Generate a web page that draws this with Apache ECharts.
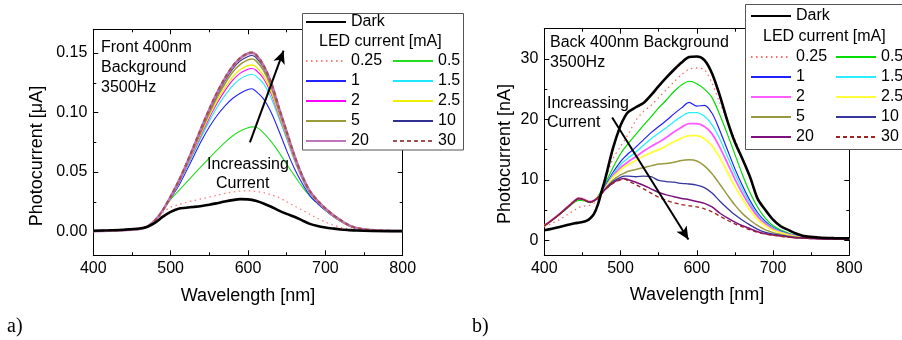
<!DOCTYPE html>
<html><head><meta charset="utf-8">
<script src="https://cdn.jsdelivr.net/npm/echarts@6/dist/echarts.min.js"></script>
<style>html,body{margin:0;padding:0;background:#fff}#c{width:902px;height:340px}</style>
</head><body><div id="c"></div>
<script>
// ---------- Panel a) Front 400nm, photocurrent in uA ----------
const WL_A = [400,420,440,460,470,480,490,500,510,520,530,540,550,560,570,580,590,600,605,610,620,630,640,650,660,670,680,690,700,710,720,730,740,760,780,800];
const DARK_A = [0.0006,0.001,0.0015,0.0025,0.004,0.0075,0.0125,0.0165,0.0192,0.0200,0.0207,0.0215,0.0225,0.0238,0.0252,0.0264,0.0272,0.0270,0.0266,0.0258,0.0236,0.0208,0.0176,0.0148,0.0124,0.0094,0.0064,0.0046,0.0034,0.0025,0.0017,0.0012,0.0008,0.0004,0.0003,0.0003];
const A_0_25 = [0.0003,0.0007,0.0012,0.0022,0.0042,0.009,0.016,0.0205,0.0225,0.0245,0.026,0.0275,0.029,0.0305,0.032,0.0332,0.034,0.0342,0.034,0.0337,0.0327,0.031,0.0285,0.025,0.0215,0.018,0.0145,0.011,0.008,0.0055,0.0035,0.0022,0.0013,0.0006,0.0004,0.0003];
const A_0_5 = [0.0003,0.0007,0.0012,0.0022,0.0042,0.0095,0.018,0.027,0.034,0.041,0.048,0.055,0.0618,0.0685,0.0748,0.0803,0.0845,0.0872,0.088,0.0878,0.083,0.0755,0.0665,0.0565,0.047,0.0378,0.0298,0.0235,0.0178,0.0125,0.0084,0.0049,0.0027,0.0011,0.0006,0.0004];
const A_1 = [0.0003,0.0007,0.0012,0.0022,0.0042,0.0095,0.018,0.0278,0.038,0.0505,0.0635,0.0765,0.0878,0.0975,0.1055,0.1118,0.1163,0.1193,0.120,0.118,0.1115,0.100,0.0845,0.068,0.053,0.0405,0.0302,0.0235,0.0178,0.0127,0.0085,0.005,0.0027,0.0011,0.0006,0.0004];
const A_1_5 = [0.0003,0.0007,0.0012,0.0022,0.0042,0.0095,0.018,0.0282,0.0395,0.0523,0.066,0.0798,0.0928,0.1045,0.1143,0.1225,0.1283,0.1315,0.132,0.1308,0.1243,0.1122,0.0952,0.0778,0.0598,0.0442,0.032,0.0245,0.0183,0.013,0.0087,0.005,0.0027,0.0011,0.0006,0.0004];
const A_2 = [0.0003,0.0007,0.0012,0.0022,0.0042,0.0095,0.018,0.0284,0.040,0.0533,0.0675,0.082,0.0955,0.1078,0.1182,0.127,0.1332,0.1365,0.137,0.1358,0.1287,0.1158,0.0975,0.0793,0.0608,0.0448,0.0324,0.0248,0.0185,0.0132,0.0088,0.0051,0.0028,0.0011,0.0006,0.0004];
const A_2_5 = [0.0003,0.0007,0.0012,0.0022,0.0042,0.0095,0.018,0.0286,0.0405,0.054,0.0685,0.0833,0.0973,0.11,0.1207,0.1298,0.1362,0.1395,0.140,0.1388,0.1312,0.1178,0.0988,0.0802,0.0614,0.0452,0.0327,0.025,0.0186,0.0133,0.0089,0.0051,0.0028,0.0011,0.0006,0.0004];
const A_5 = [0.0003,0.0007,0.0012,0.0022,0.0042,0.0095,0.018,0.0288,0.041,0.0548,0.0698,0.085,0.0995,0.1128,0.124,0.1338,0.1405,0.1443,0.145,0.1437,0.1355,0.1213,0.1012,0.0818,0.0623,0.0457,0.033,0.0252,0.0188,0.0134,0.009,0.0052,0.0028,0.0011,0.0006,0.0004];
const A_10 = [0.0003,0.0007,0.0012,0.0022,0.0042,0.0095,0.018,0.029,0.0413,0.0553,0.0705,0.086,0.101,0.1148,0.1265,0.1365,0.1435,0.1472,0.148,0.1465,0.1378,0.123,0.1025,0.0828,0.063,0.0462,0.0334,0.0255,0.019,0.0136,0.0092,0.0053,0.0029,0.0012,0.0006,0.0004];
const A_20 = [0.0003,0.0007,0.0012,0.0022,0.0042,0.0095,0.018,0.0293,0.0418,0.056,0.0715,0.0875,0.1025,0.1165,0.1285,0.1385,0.1457,0.1497,0.1502,0.1487,0.1397,0.1248,0.1038,0.0838,0.0638,0.0468,0.0338,0.0258,0.0193,0.0138,0.0093,0.0054,0.003,0.0012,0.0006,0.0004];
const A_30 = [0.0003,0.0007,0.0012,0.0022,0.0042,0.0095,0.018,0.0295,0.042,0.0565,0.072,0.088,0.103,0.117,0.129,0.139,0.146,0.150,0.1505,0.149,0.140,0.125,0.104,0.084,0.064,0.047,0.034,0.026,0.0195,0.014,0.0095,0.0055,0.003,0.0012,0.0006,0.0004];

// ---------- Panel b) Back 400nm, photocurrent in nA ----------
const WL_B = [400,410,420,430,440,445,450,455,460,465,470,475,480,490,500,505,510,520,530,540,550,560,570,580,590,600,610,620,630,640,650,660,670,680,690,700,710,720,730,740,760,780,800];
const DARK_B = [1.65,1.9,2.2,2.5,2.8,2.9,3.0,3.2,3.6,4.3,5.8,8.0,10.2,15.2,19.0,20.3,21.2,22.0,22.7,24.0,25.5,26.9,28.2,29.4,30.3,30.4,29.8,27.6,24.0,19.8,16.2,13.4,10.4,6.8,5.0,3.4,2.3,1.7,1.1,0.7,0.45,0.35,0.3];
const B_0_25 = [2.2,2.8,3.4,4.2,5.0,5.4,5.6,5.7,5.8,6.1,6.8,8.2,10.0,13.5,15.5,16.5,17.5,19.8,21.3,22.3,23.6,24.9,26.2,27.4,28.3,28.5,28.2,26.0,22.8,19.8,16.7,13.5,10.2,7.0,4.9,3.3,2.3,1.6,1.1,0.8,0.5,0.4,0.35];
const B_0_5 = [2.4,3.3,4.3,5.3,6.3,6.6,6.6,6.4,6.2,6.5,7.2,8.2,9.4,12.0,14.3,15.2,16.0,17.5,19.0,20.4,21.9,23.2,24.6,25.7,26.3,25.9,25.0,23.6,20.8,17.6,14.2,10.8,7.8,5.4,3.6,2.4,1.7,1.2,0.8,0.55,0.35,0.3,0.25];
const B_1 = [2.4,3.3,4.3,5.4,6.5,6.9,6.8,6.5,6.3,6.5,7.1,7.9,9.0,11.2,13.0,13.7,14.3,15.4,16.6,17.8,18.8,19.8,20.9,21.9,22.8,22.2,22.3,21.0,18.2,15.0,11.8,9.0,6.5,4.5,3.1,2.1,1.5,1.05,0.75,0.5,0.3,0.25,0.2];
const B_1_5 = [2.4,3.3,4.3,5.4,6.5,6.9,6.8,6.5,6.3,6.5,7.1,7.8,8.8,10.9,12.5,13.1,13.6,14.6,15.7,16.8,17.7,18.6,19.6,20.5,21.1,21.1,20.5,19.1,16.8,13.9,11.0,8.4,6.1,4.2,2.9,2.0,1.4,1.0,0.7,0.5,0.3,0.25,0.2];
const B_2 = [2.5,3.4,4.4,5.5,6.6,7.0,6.9,6.6,6.4,6.6,7.1,7.8,8.7,10.6,12.0,12.5,13.0,13.8,14.7,15.5,16.2,17.0,17.9,18.7,19.3,19.3,18.8,17.6,15.4,12.8,10.1,7.7,5.6,3.9,2.7,1.85,1.3,0.95,0.65,0.45,0.3,0.25,0.2];
const B_2_5 = [2.4,3.3,4.3,5.4,6.5,6.9,6.8,6.5,6.3,6.5,7.1,7.7,8.6,10.4,11.6,12.1,12.5,13.2,13.9,14.5,15.0,15.6,16.3,16.9,17.3,17.3,16.8,15.6,13.7,11.3,8.9,6.8,4.9,3.4,2.4,1.65,1.2,0.85,0.6,0.45,0.3,0.25,0.2];
const B_5 = [2.4,3.3,4.3,5.4,6.5,6.9,6.8,6.5,6.3,6.5,7.0,7.7,8.5,9.9,10.8,11.1,11.4,11.7,12.0,12.3,12.6,12.7,12.9,13.2,13.3,13.1,12.3,11.0,9.3,7.5,5.8,4.4,3.3,2.4,1.7,1.25,0.95,0.7,0.5,0.4,0.3,0.25,0.2];
const B_10 = [2.4,3.3,4.3,5.4,6.5,6.9,6.8,6.5,6.3,6.5,7.0,7.7,8.5,9.7,10.4,10.6,10.6,10.5,10.6,10.5,9.9,9.7,9.6,9.4,9.3,9.1,8.7,7.8,6.5,5.3,4.2,3.3,2.5,1.8,1.3,1.0,0.8,0.6,0.45,0.35,0.25,0.2,0.2];
const B_20 = [2.4,3.3,4.3,5.4,6.5,6.9,6.8,6.5,6.3,6.5,7.0,7.7,8.4,9.5,10.1,10.2,10.0,9.6,9.1,8.5,7.9,7.5,7.2,6.9,6.7,6.4,6.1,5.5,4.5,3.7,3.0,2.4,1.9,1.4,1.05,0.85,0.7,0.55,0.4,0.35,0.25,0.2,0.2];
const B_30 = [2.4,3.3,4.3,5.4,6.5,6.9,6.8,6.5,6.3,6.5,7.0,7.7,8.4,9.4,10.0,10.1,9.8,9.2,8.5,7.8,7.1,6.6,6.2,5.9,5.7,5.5,5.2,4.7,4.0,3.3,2.7,2.2,1.7,1.3,1.0,0.8,0.65,0.5,0.4,0.3,0.25,0.2,0.2];

// ---------- Axes / tick labels ----------
const X_RANGE = [400, 800];
const X_TICK_STEP = 100;
const Y_RANGE_A = [-0.02, 0.17];
const Y_TICKS_A = [0, 0.05, 0.10, 0.15];
const Y_MINOR_A = [0.025, 0.075, 0.125];
const Y_RANGE_B = [-2.5, 35];
const Y_TICKS_B = [0, 10, 20, 30];
const Y_MINOR_B = [5, 15, 25];
const COL1 = ['0.25', '1', '2', '5', '20'];
const COL2 = ['0.5', '1.5', '2.5', '10', '30'];
const ARROW_A = [[602.5, 0.075], [646, 0.152]];
const ARROW_B = [[489, 20.3], [589, 0.1]];

const FONT = 'Liberation Sans, Arial, Helvetica, sans-serif';

function xa(g, pos, labels) {
  return {type:'value', gridIndex:g, position:pos, min:X_RANGE[0], max:X_RANGE[1], interval:X_TICK_STEP,
    axisLine:{show:true, onZero:false, lineStyle:{color:'#000', width:1}},
    axisTick:{show:true, inside:true, length:5, lineStyle:{color:'#000', width:1}},
    minorTick:{show:true, splitNumber:2, length:3, lineStyle:{color:'#000', width:1}},
    axisLabel:{show:labels, color:'#000', fontSize:16, fontFamily:FONT, margin:5},
    splitLine:{show:false}, minorSplitLine:{show:false}};
}
function yaMajor(g, pos, range, ticks, labels, fmt) {
  return {type:'value', gridIndex:g, position:pos, min:range[0], max:range[1],
    axisLine:{show:true, onZero:false, lineStyle:{color:'#000', width:1}},
    axisTick:{show:true, inside:true, length:5, customValues:ticks, lineStyle:{color:'#000', width:1}},
    axisLabel:{show:labels, customValues:ticks, color:'#000', fontSize:16, fontFamily:FONT, margin:6, formatter:fmt},
    splitLine:{show:false}};
}
function yaMinor(g, pos, range, ticks) {
  return {type:'value', gridIndex:g, position:pos, min:range[0], max:range[1],
    axisLine:{show:false, onZero:false},
    axisTick:{show:true, inside:true, length:3, customValues:ticks, lineStyle:{color:'#000', width:1}},
    axisLabel:{show:false, customValues:ticks},
    splitLine:{show:false}};
}

function mk(prefix, name, wl, vals, xi, yi, color, width, type, z) {
  return {type:'line', name: prefix + '|' + name, xAxisIndex:xi, yAxisIndex:yi,
    data: wl.map((w, i) => [w, vals[i]]), symbol:'none', showSymbol:false, smooth:0.3,
    lineStyle:{color:color, width:width, type:type}, itemStyle:{color:color}, z:z, silent:true};
}

const seriesA = [
  mk('A','0.25', WL_A, A_0_25, 0,0, '#ff7c7c', 1.3, [1.5,3.5], 2),
  mk('A','0.5',  WL_A, A_0_5,  0,0, '#22dd22', 1.1, 'solid', 2),
  mk('A','1',    WL_A, A_1,    0,0, '#2323ff', 1.1, 'solid', 2),
  mk('A','1.5',  WL_A, A_1_5,  0,0, '#1ee8ff', 1.1, 'solid', 2),
  mk('A','2',    WL_A, A_2,    0,0, '#ff00ff', 1.1, 'solid', 2),
  mk('A','2.5',  WL_A, A_2_5,  0,0, '#eeee00', 1.3, 'solid', 2),
  mk('A','5',    WL_A, A_5,    0,0, '#9a9a38', 1.6, 'solid', 2),
  mk('A','10',   WL_A, A_10,   0,0, '#303090', 1.1, 'solid', 2),
  mk('A','20',   WL_A, A_20,   0,0, '#c075b8', 2.6, 'solid', 2),
  mk('A','30',   WL_A, A_30,   0,0, '#a05050', 2.0, [4,3], 2),
  mk('A','Dark', WL_A, DARK_A, 0,0, '#000000', 2.6, 'solid', 3)
];
seriesA[seriesA.length-1].markLine = {silent:true, symbol:['none','arrow'], symbolSize:[9,13],
  lineStyle:{color:'#000', width:2, type:'solid'}, label:{show:false},
  data:[[{coord:ARROW_A[0]},{coord:ARROW_A[1]}]]};

const seriesB = [
  mk('B','0.25', WL_B, B_0_25, 2,4, '#ff6a6a', 1.3, [1.5,3.5], 2),
  mk('B','0.5',  WL_B, B_0_5,  2,4, '#00dd00', 1.2, 'solid', 2),
  mk('B','1',    WL_B, B_1,    2,4, '#2020ff', 1.2, 'solid', 2),
  mk('B','1.5',  WL_B, B_1_5,  2,4, '#28eeff', 1.3, 'solid', 2),
  mk('B','2',    WL_B, B_2,    2,4, '#ff5cff', 1.8, 'solid', 2),
  mk('B','2.5',  WL_B, B_2_5,  2,4, '#ffff3a', 1.8, 'solid', 2),
  mk('B','5',    WL_B, B_5,    2,4, '#999940', 1.5, 'solid', 2),
  mk('B','10',   WL_B, B_10,   2,4, '#36369e', 1.3, 'solid', 2),
  mk('B','20',   WL_B, B_20,   2,4, '#7e107e', 1.5, 'solid', 2),
  mk('B','30',   WL_B, B_30,   2,4, '#a02424', 1.3, [4,3], 2),
  mk('B','Dark', WL_B, DARK_B, 2,4, '#000000', 2.6, 'solid', 3)
];
seriesB[seriesB.length-1].markLine = {silent:true, symbol:['none','arrow'], symbolSize:[9,13],
  lineStyle:{color:'#000', width:2, type:'solid'}, label:{show:false},
  data:[[{coord:ARROW_B[0]},{coord:ARROW_B[1]}]]};

function lg(names, left, top) {
  return {data:names, left:left, top:top, orient:'vertical', itemWidth:40, itemHeight:14, itemGap:4,
    padding:0, selectedMode:false, z:20, backgroundColor:'transparent',
    itemStyle:{opacity:0, borderWidth:0},
    textStyle:{fontSize:16, color:'#000', lineHeight:16, fontFamily:FONT},
    formatter:n => n.split('|')[1]};
}

function txt(s, x, y, opts) {
  return Object.assign({type:'text', x:x, y:y, z:20, style:{text:s, fill:'#000', fontSize:16, fontFamily:FONT,
    align:'left', verticalAlign:'middle', textAlign:'left', textVerticalAlign:'middle'}}, opts || {});
}

const option = {
  animation:false,
  textStyle:{fontFamily:FONT, color:'#000'},
  grid:[
    {left:93.3, top:29.3, width:309.4, height:226, outerBoundsMode:'none', containLabel:false},
    {left:544.3, top:28.7, width:305, height:226.6, outerBoundsMode:'none', containLabel:false}
  ],
  xAxis:[xa(0,'bottom',true), xa(0,'top',false), xa(1,'bottom',true), xa(1,'top',false)],
  yAxis:[
    yaMajor(0,'left',Y_RANGE_A,Y_TICKS_A,true,v=>v.toFixed(2)),
    yaMinor(0,'left',Y_RANGE_A,Y_MINOR_A),
    yaMajor(0,'right',Y_RANGE_A,Y_TICKS_A,false,v=>v.toFixed(2)),
    yaMinor(0,'right',Y_RANGE_A,Y_MINOR_A),
    yaMajor(1,'left',Y_RANGE_B,Y_TICKS_B,true,v=>String(Math.round(v))),
    yaMinor(1,'left',Y_RANGE_B,Y_MINOR_B),
    yaMajor(1,'right',Y_RANGE_B,Y_TICKS_B,false,v=>String(Math.round(v))),
    yaMinor(1,'right',Y_RANGE_B,Y_MINOR_B)
  ],
  legend:[
    lg(['A|Dark'], 305, 14),
    lg(COL1.map(n=>'A|'+n), 305, 53),
    lg(COL2.map(n=>'A|'+n), 392, 53),
    lg(['B|Dark'], 750, 8),
    lg(COL1.map(n=>'B|'+n), 750, 49),
    lg(COL2.map(n=>'B|'+n), 835, 49)
  ],
  graphic:[
    {type:'rect', z:10, shape:{x:302.5, y:13.5, width:161, height:136.5}, style:{fill:'#fff', stroke:'#555', lineWidth:1}},
    {type:'rect', z:10, shape:{x:745.5, y:4.5, width:170, height:145}, style:{fill:'#fff', stroke:'#555', lineWidth:1}},
    txt('LED current [mA]', 319, 42),
    txt('LED current [mA]', 763, 37),
    txt('Front 400nm', 101, 48),
    txt('Background', 101, 68),
    txt('3500Hz', 101, 88),
    txt('Increassing', 207, 165),
    txt('Current', 216, 184),
    txt('Back 400nm Background', 550, 43),
    txt('3500Hz', 550, 63),
    txt('Increassing', 547, 104),
    txt('Current', 547, 123),
    {type:'text', x:37, y:156, rotation:Math.PI/2, z:20, style:{text:'Photocurrent [\u03bcA]', fill:'#000', fontSize:18, fontFamily:FONT, align:'center', verticalAlign:'middle', textAlign:'center', textVerticalAlign:'middle'}},
    {type:'text', x:505, y:154, rotation:Math.PI/2, z:20, style:{text:'Photocurrent [nA]', fill:'#000', fontSize:18, fontFamily:FONT, align:'center', verticalAlign:'middle', textAlign:'center', textVerticalAlign:'middle'}},
    {type:'text', x:248, y:296, z:20, style:{text:'Wavelength [nm]', fill:'#000', fontSize:18, fontFamily:FONT, align:'center', verticalAlign:'middle', textAlign:'center', textVerticalAlign:'middle'}},
    {type:'text', x:697, y:295, z:20, style:{text:'Wavelength [nm]', fill:'#000', fontSize:18, fontFamily:FONT, align:'center', verticalAlign:'middle', textAlign:'center', textVerticalAlign:'middle'}},
    {type:'text', x:7, y:327, z:20, style:{text:'a)', fill:'#000', fontSize:20, fontFamily:'Liberation Serif, Times New Roman, serif', align:'left', verticalAlign:'middle', textAlign:'left', textVerticalAlign:'middle'}},
    {type:'text', x:472, y:327, z:20, style:{text:'b)', fill:'#000', fontSize:20, fontFamily:'Liberation Serif, Times New Roman, serif', align:'left', verticalAlign:'middle', textAlign:'left', textVerticalAlign:'middle'}}
  ],
  series: seriesA.concat(seriesB)
};

const chart = echarts.init(document.getElementById('c'), null, {renderer:'canvas', width:902, height:340});
chart.setOption(option);
</script>
</body></html>
